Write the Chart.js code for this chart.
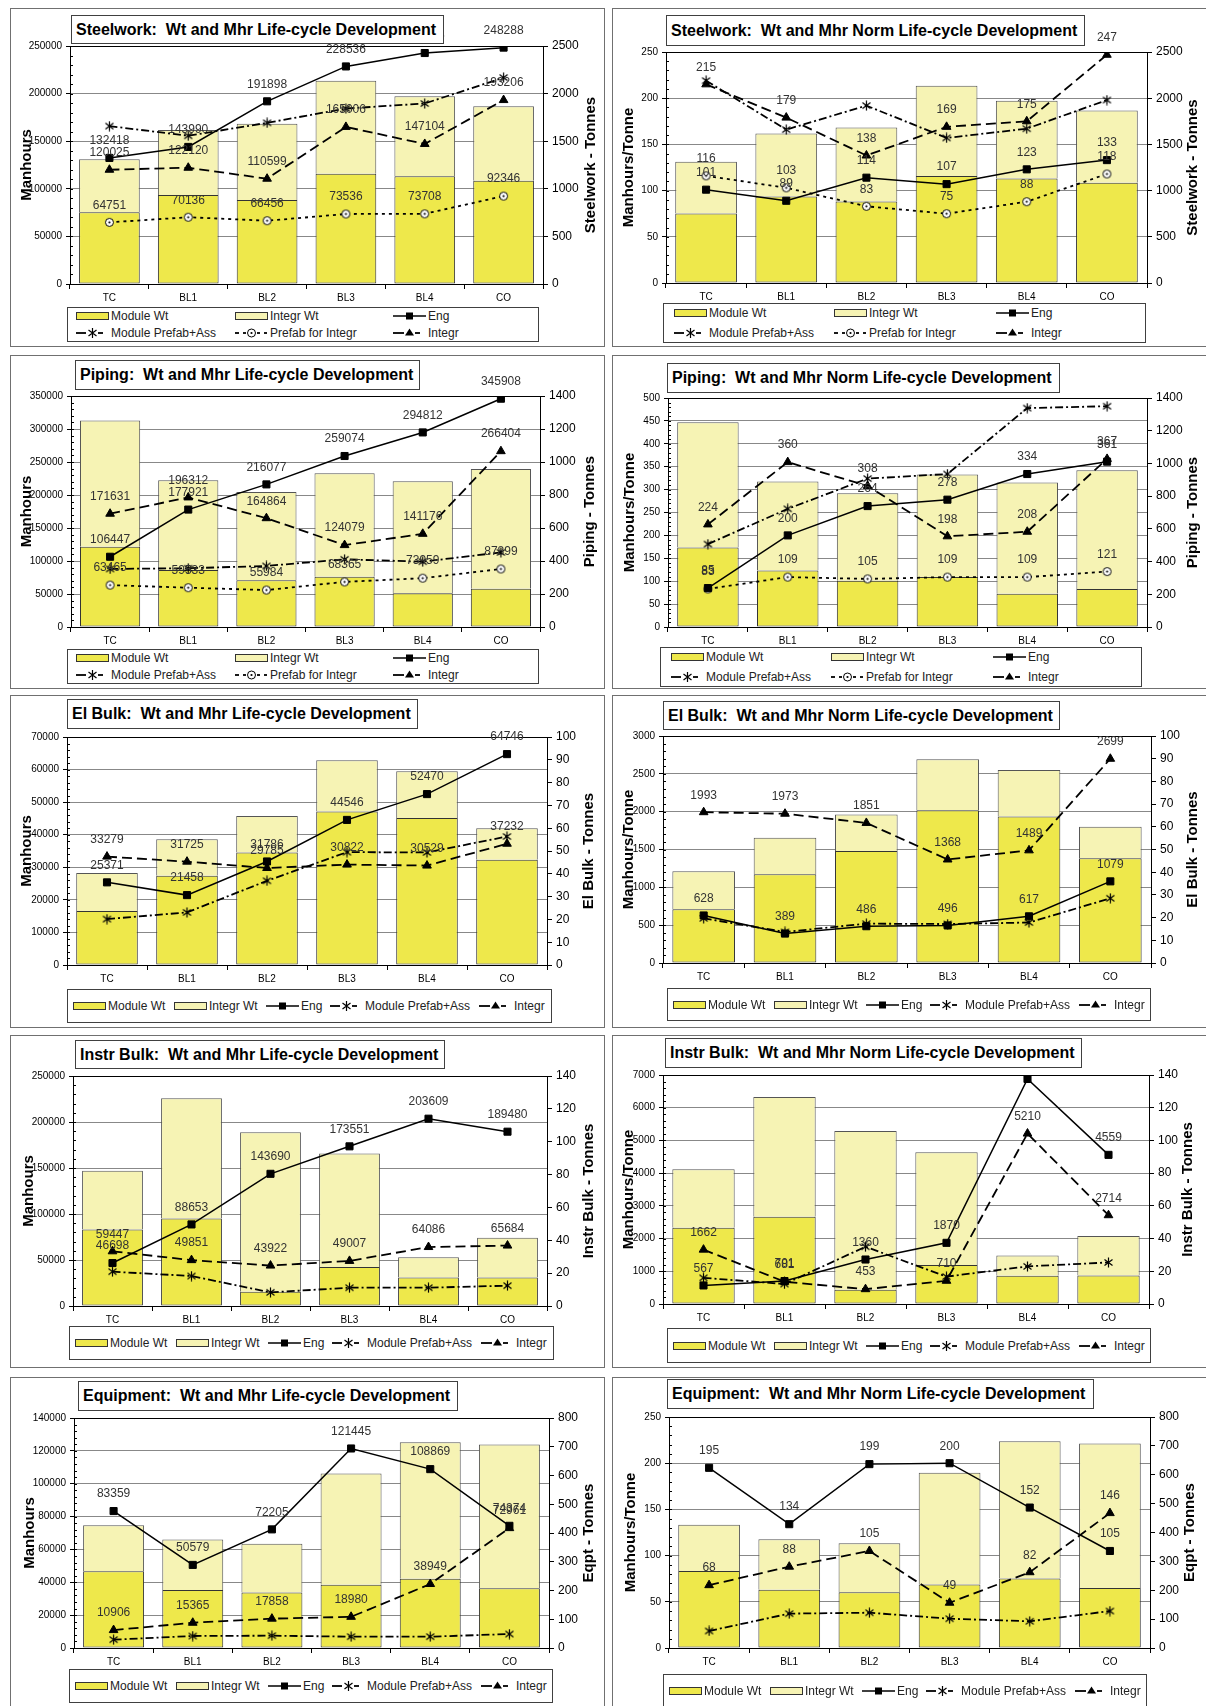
<!DOCTYPE html>
<html><head><meta charset="utf-8">
<script src="https://cdn.jsdelivr.net/npm/chart.js@4.4.1/dist/chart.umd.min.js"></script>
<style>
html,body{margin:0;padding:0;background:#fff;}
body{width:1206px;height:1706px;position:relative;overflow:hidden;font-family:"Liberation Sans",Arial,sans-serif;}
canvas{position:absolute;}
.pbox{position:absolute;border:1px solid #707070;box-sizing:border-box;}
.tbox{position:absolute;border:1px solid #404040;background:#fff;box-sizing:border-box;font-weight:bold;font-size:16px;white-space:pre;padding-left:4px;display:flex;align-items:center;color:#000;z-index:5;}
.lbox{position:absolute;border:1px solid #404040;background:#fff;box-sizing:border-box;z-index:5;}
.li{position:absolute;display:flex;align-items:center;font-size:12px;color:#222;white-space:nowrap;height:14px;}
.li svg{margin-right:2px;}
</style>
</head><body>
<script>
// ---------------- DATA ----------------
const categories = ['TC','BL1','BL2','BL3','BL4','CO'];

// Steelwork
const steelModuleWt = [753, 936, 882, 1158, 1132, 1085];
const steelIntegrWt = [558, 682, 801, 976, 841, 782];
const steelEng = [132418, 143990, 191898, 228536, 242625, 248288];
const steelModPrefab = [165850, 155700, 169300, 184300, 189600, 216800];
const steelPrefabInt = [64751, 70136, 66456, 73536, 73708, 92346];
const steelIntegr = [120025, 122120, 110599, 165006, 147104, 193206];
const steelEngN = [101, 89, 114, 107, 123, 133];
const steelModPrefabN = [219, 166, 192, 157, 167, 198];
const steelPrefabIntN = [116, 103, 83, 75, 88, 118];
const steelIntegrN = [215, 179, 138, 169, 175, 247];

// Piping
const pipeModuleWt = [486, 345, 283, 305, 204, 232];
const pipeIntegrWt = [766, 545, 535, 627, 679, 726];
const pipeEng = [106447, 177921, 216077, 259074, 294812, 345908];
const pipeModPrefab = [88000, 89000, 92500, 102500, 99000, 113000];
const pipePrefabInt = [63465, 59533, 55984, 68365, 73959, 87899];
const pipeIntegr = [171631, 196312, 164864, 124079, 141176, 266404];
const pipeEngN = [85, 200, 264, 278, 334, 361];
const pipeModPrefabN = [181, 258, 324, 334, 478, 482];
const pipePrefabIntN = [83, 109, 105, 109, 109, 121];
const pipeIntegrN = [224, 360, 308, 198, 208, 367];

// El Bulk
const elModuleWt = [23.7, 39.1, 49.3, 67.3, 64.5, 46.2];
const elIntegrWt = [16.7, 16.1, 16.1, 22.5, 20.5, 13.8];
const elEng = [25371, 21458, 31786, 44546, 52470, 64746];
const elModPrefab = [14100, 16150, 25850, 34650, 34550, 39450];
const elIntegr = [33279, 31725, 29785, 30822, 30529, 37232];
const elEngN = [628, 389, 486, 496, 617, 1079];
const elModPrefabN = [590, 410, 520, 515, 535, 855];
const elIntegrN = [1993, 1973, 1851, 1368, 1489, 2699];

// Instr Bulk
const insModuleWt = [46.6, 53.3, 8.7, 23.8, 17.3, 17.4];
const insIntegrWt = [35.8, 73.2, 97.0, 69.0, 12.3, 24.2];
const insEng = [46698, 88653, 143690, 173551, 203609, 189480];
const insModPrefab = [37300, 32600, 14850, 19900, 19900, 22100];
const insIntegr = [59447, 49851, 43922, 49007, 64086, 65684];
const insEngN = [567, 701, 1360, 1870, 6879, 4559];
const insModPrefabN = [800, 612, 1750, 836, 1150, 1270];
const insIntegrN = [1662, 681, 453, 710, 5210, 2714];

// Equipment
const eqModuleWt = [267, 202, 193, 220, 241, 208];
const eqIntegrWt = [160, 175, 170, 387, 475, 500];
const eqEng = [83359, 50579, 72205, 121445, 108869, 74374];
const eqModPrefab = [5070, 7300, 7500, 6900, 6900, 8500];
const eqIntegr = [10906, 15365, 17858, 18980, 38949, 72961];
const eqEngN = [195, 134, 199, 200, 152, 105];
const eqModPrefabN = [18.4, 37.2, 38.2, 31.7, 28.9, 40.0];
const eqIntegrN = [68, 88, 105, 49, 82, 146];

// ---------------- STYLE ----------------
const MODC = '#EEE84B', INTC = '#F6F3B4';
Chart.defaults.font.family = '"Liberation Sans", Arial, sans-serif';

function mk(w,h,fn){const c=document.createElement('canvas');c.width=w;c.height=h;fn(c.getContext('2d'));return c;}
const AST = mk(11,11,g=>{g.strokeStyle='#000';g.lineWidth=1.2;g.beginPath();g.moveTo(5.5,0.5);g.lineTo(5.5,10.5);g.moveTo(1.5,2.5);g.lineTo(9.5,8.5);g.moveTo(9.5,2.5);g.lineTo(1.5,8.5);g.stroke();});
const CIRC = mk(11,11,g=>{g.fillStyle='#fff';g.strokeStyle='#000';g.lineWidth=1;g.beginPath();g.arc(5.5,5.5,4,0,Math.PI*2);g.fill();g.stroke();g.fillStyle='#000';g.beginPath();g.arc(5.5,5.5,1.1,0,Math.PI*2);g.fill();});

const STY = {
  eng:   {label:'Eng', dash:[], width:1.5, ps:'rect', r:5},
  mp:    {label:'Module Prefab+Ass', dash:[8,3,2,3], width:1.8, ps:AST, r:5},
  pi:    {label:'Prefab for Integr', dash:[3,4], width:1.8, ps:CIRC, r:5},
  integr:{label:'Integr', dash:[10,5], width:1.8, ps:'triangle', r:5}
};

// ---------------- PANELS (layout) ----------------
const L2 = [8,167,325], R2 = [10,170,332], C1 = [5,106,198,262,411];
const panels = [
 {title:'Steelwork:  Wt and Mhr Life-cycle Development', box:[10,8,605,347], plot:[70,46,543,284], tbox:[71,15,444,44], lbox:[67,307,539,342], lcols:L2,
  lt:[27,'Manhours'], rt:[591,'Steelwork - Tonnes'], yl:[250000,50000], yr:[2500,500], bars:[steelModuleWt,steelIntegrWt],
  lines:[['eng',steelEng,1],['mp',steelModPrefab,0],['pi',steelPrefabInt,1],['integr',steelIntegr,1]]},
 {title:'Steelwork:  Wt and Mhr Norm Life-cycle Development', box:[612,8,1207,347], plot:[666,52,1147,283], tbox:[666,15,1085,46], lbox:[663,303,1146,343], lcols:R2,
  lt:[629,'Manhours/Tonne'], rt:[1193,'Steelwork - Tonnes'], yl:[250,50], yr:[2500,500], bars:[steelModuleWt,steelIntegrWt],
  lines:[['eng',steelEngN,1],['mp',steelModPrefabN,0],['pi',steelPrefabIntN,1],['integr',steelIntegrN,1]]},
 {title:'Piping:  Wt and Mhr Life-cycle Development', box:[10,355,605,689], plot:[71,396,540,627], tbox:[75,360,420,390], lbox:[67,649,539,684], lcols:L2,
  lt:[27,'Manhours'], rt:[590,'Piping - Tonnes'], yl:[350000,50000], yr:[1400,200], bars:[pipeModuleWt,pipeIntegrWt],
  lines:[['eng',pipeEng,1],['mp',pipeModPrefab,0],['pi',pipePrefabInt,1],['integr',pipeIntegr,1]]},
 {title:'Piping:  Wt and Mhr Norm Life-cycle Development', box:[612,355,1207,689], plot:[668,398,1147,627], tbox:[667,363,1060,393], lbox:[660,647,1142,687], lcols:R2,
  lt:[630,'Manhours/Tonne'], rt:[1193,'Piping - Tonnes'], yl:[500,50], yr:[1400,200], bars:[pipeModuleWt,pipeIntegrWt],
  lines:[['eng',pipeEngN,1],['mp',pipeModPrefabN,0],['pi',pipePrefabIntN,1],['integr',pipeIntegrN,1]]},
 {title:'El Bulk:  Wt and Mhr Life-cycle Development', box:[10,695,605,1028], plot:[67,737,547,965], tbox:[67,699,418,729], lbox:[67,989,552,1023], lcols:C1,
  lt:[27,'Manhours'], rt:[589,'El Bulk - Tonnes'], yl:[70000,10000], yr:[100,10], bars:[elModuleWt,elIntegrWt],
  lines:[['eng',elEng,1],['mp',elModPrefab,0],['integr',elIntegr,1]]},
 {title:'El Bulk:  Wt and Mhr Norm Life-cycle Development', box:[612,695,1207,1028], plot:[663,736,1151,963], tbox:[663,701,1060,730], lbox:[667,988,1151,1021], lcols:C1,
  lt:[629,'Manhours/Tonne'], rt:[1193,'El Bulk - Tonnes'], yl:[3000,500], yr:[100,10], bars:[elModuleWt,elIntegrWt],
  lines:[['eng',elEngN,1],['mp',elModPrefabN,0],['integr',elIntegrN,1]]},
 {title:'Instr Bulk:  Wt and Mhr Life-cycle Development', box:[10,1035,605,1368], plot:[73,1076,547,1306], tbox:[75,1040,445,1069], lbox:[69,1326,554,1360], lcols:C1,
  lt:[29,'Manhours'], rt:[589,'Instr Bulk - Tonnes'], yl:[250000,50000], yr:[140,20], bars:[insModuleWt,insIntegrWt],
  lines:[['eng',insEng,1],['mp',insModPrefab,0],['integr',insIntegr,1]]},
 {title:'Instr Bulk:  Wt and Mhr Norm Life-cycle Development', box:[612,1035,1207,1368], plot:[663,1075,1149,1304], tbox:[665,1038,1082,1068], lbox:[667,1328,1151,1363], lcols:C1,
  lt:[629,'Manhours/Tonne'], rt:[1188,'Instr Bulk - Tonnes'], yl:[7000,1000], yr:[140,20], bars:[insModuleWt,insIntegrWt],
  lines:[['eng',insEngN,1],['mp',insModPrefabN,0],['integr',insIntegrN,1]]},
 {title:'Equipment:  Wt and Mhr Life-cycle Development', box:[10,1377,605,1707], plot:[74,1418,549,1648], tbox:[78,1381,458,1411], lbox:[69,1669,553,1703], lcols:C1,
  lt:[30,'Manhours'], rt:[589,'Eqpt - Tonnes'], yl:[140000,20000], yr:[800,100], bars:[eqModuleWt,eqIntegrWt],
  lines:[['eng',eqEng,1],['mp',eqModPrefab,0],['integr',eqIntegr,1]]},
 {title:'Equipment:  Wt and Mhr Norm Life-cycle Development', box:[612,1377,1207,1707], plot:[669,1417,1150,1648], tbox:[667,1379,1094,1409], lbox:[663,1674,1147,1707], lcols:C1,
  lt:[631,'Manhours/Tonne'], rt:[1190,'Eqpt - Tonnes'], yl:[250,50], yr:[800,100], bars:[eqModuleWt,eqIntegrWt],
  lines:[['eng',eqEngN,1],['mp',eqModPrefabN,0],['integr',eqIntegrN,1]]}
];

// ---------------- PLUGIN ----------------
const deco = {
  id:'deco',
  beforeDatasetsDraw(chart, args, o){
    const {ctx, chartArea:a} = chart; const y = chart.scales.y;
    ctx.save(); ctx.strokeStyle='#000'; ctx.lineWidth=1;
    const st = o.step/5;
    for(let k=0;k*st<=o.max+1e-9;k++){ const py=Math.round(y.getPixelForValue(k*st))+0.5; ctx.beginPath(); ctx.moveTo(a.left,py); ctx.lineTo(a.left+3,py); ctx.stroke(); }
    ctx.beginPath(); ctx.moveTo(a.left, Math.round(a.top)+0.5); ctx.lineTo(a.right, Math.round(a.top)+0.5); ctx.stroke();
    ctx.restore();
  },
  afterDatasetsDraw(chart, args, o){
    const ctx = chart.ctx; ctx.save();
    ctx.font = '12px "Liberation Sans", Arial'; ctx.fillStyle='#333'; ctx.textAlign='center'; ctx.textBaseline='middle';
    chart.data.datasets.forEach((ds,i)=>{ if(!ds.showLabels) return; const meta=chart.getDatasetMeta(i);
      meta.data.forEach((pt,j)=>{ ctx.fillText(String(ds.data[j]), pt.x, pt.y-17); }); });
    ctx.restore();
  },
  afterDraw(chart, args, o){
    const {ctx, chartArea:a} = chart; const cy=(a.top+a.bottom)/2;
    ctx.save(); ctx.font='bold 15px "Liberation Sans", Arial'; ctx.fillStyle='#000'; ctx.textAlign='center'; ctx.textBaseline='middle';
    [[o.lx,o.ltxt],[o.rx,o.rtxt]].forEach(([x,t])=>{ ctx.save(); ctx.translate(x,cy); ctx.rotate(-Math.PI/2); ctx.fillText(t,0,0); ctx.restore(); });
    ctx.restore();
  }
};
Chart.register(deco);

// ---------------- LEGEND SYMBOLS ----------------
function sym(kind){
  const s = (inner)=>`<svg width="33" height="12" viewBox="0 0 33 12">${inner}</svg>`;
  const ln = (x1,x2,w)=>`<line x1="${x1}" y1="6" x2="${x2}" y2="6" stroke="#000" stroke-width="${w||1.8}"/>`;
  if(kind==='mod') return s(`<rect x="0.5" y="2.5" width="32" height="7" fill="${MODC}" stroke="#333"/>`);
  if(kind==='int') return s(`<rect x="0.5" y="2.5" width="32" height="7" fill="${INTC}" stroke="#333"/>`);
  if(kind==='eng') return s(ln(0,33,1.5)+`<rect x="13" y="2.5" width="7" height="7" fill="#000"/>`);
  if(kind==='mp') return s(ln(0,10)+ln(22,27)+`<path d="M16.5 1V11M12.5 3L20.5 9M20.5 3L12.5 9" stroke="#000" stroke-width="1.2"/>`);
  if(kind==='pi') return s(ln(0,4)+ln(8,11)+ln(22,25)+ln(29,32)+`<circle cx="16.5" cy="6" r="4" fill="#fff" stroke="#000"/><circle cx="16.5" cy="6" r="1.1" fill="#000"/>`);
  if(kind==='integr') return s(ln(0,11)+ln(22,27)+`<path d="M16.5 1.5L21 8.5H12Z" fill="#000"/>`);
}
function div(cls, x, y, w, h){ const d=document.createElement('div'); d.className=cls; d.style.left=x+'px'; d.style.top=y+'px'; if(w!=null){d.style.width=w+'px'; d.style.height=h+'px';} return d; }

// ---------------- BUILD ----------------
panels.forEach(p=>{
  const [bx0,by0,bx1,by1] = p.box; const cw=bx1-bx0, ch=by1-by0;
  const [L,T,R,B] = p.plot; const XH = 20;
  document.body.appendChild(div('pbox', bx0, by0, cw, ch));
  const cv = document.createElement('canvas'); cv.width=cw; cv.height=ch; cv.style.left=bx0+'px'; cv.style.top=by0+'px';
  document.body.appendChild(cv);

  const datasets = [
    {type:'bar', label:'Module Wt', data:p.bars[0], yAxisID:'y2', stack:'w', backgroundColor:MODC, borderColor:'#333', borderWidth:1, borderSkipped:false, order:5, barPercentage:0.77, categoryPercentage:1},
    {type:'bar', label:'Integr Wt', data:p.bars[1], yAxisID:'y2', stack:'w', backgroundColor:INTC, borderColor:'#555', borderWidth:1, borderSkipped:'start', order:5, barPercentage:0.77, categoryPercentage:1}
  ];
  p.lines.forEach(([k,data,lab])=>{ const s=STY[k];
    datasets.push({type:'line', label:s.label, data, yAxisID:'y', borderColor:'#000', borderWidth:s.width, borderDash:s.dash,
      pointStyle:s.ps, pointRadius:s.r, pointBackgroundColor:'#000', pointBorderColor:'#000', pointBorderWidth:1,
      fill:false, tension:0, order:1, showLabels:!!lab});
  });

  new Chart(cv, {type:'bar', data:{labels:categories, datasets},
    options:{responsive:false, animation:false, events:[],
      layout:{autoPadding:false, padding:{left:0,right:0,top:T-by0,bottom:(by1-B)-XH}},
      plugins:{legend:{display:false}, tooltip:{enabled:false},
        deco:{max:p.yl[0], step:p.yl[1], lx:p.lt[0]-bx0, ltxt:p.lt[1], rx:p.rt[0]-bx0, rtxt:p.rt[1]}},
      scales:{
        x:{stacked:true, offset:true, grid:{offset:true, drawOnChartArea:false, drawTicks:true, tickLength:5, tickColor:'#000'},
           border:{color:'#000'}, ticks:{font:{size:10}, color:'#000', padding:3, maxRotation:0, autoSkip:false}, afterFit:s=>{s.height=XH;}},
        y:{position:'left', min:0, max:p.yl[0], ticks:{stepSize:p.yl[1], font:{size:10}, color:'#000', padding:4, autoSkip:false, callback:v=>String(v)},
           grid:{color:'#888', tickColor:'#000', tickLength:4}, border:{color:'#000'}, afterFit:s=>{s.width=L-bx0;}},
        y2:{position:'right', stacked:true, min:0, max:p.yr[0], ticks:{stepSize:p.yr[1], font:{size:12}, color:'#000', padding:4, autoSkip:false, callback:v=>String(v)},
           grid:{drawOnChartArea:false, tickColor:'#000', tickLength:5}, border:{color:'#000'}, afterFit:s=>{s.width=bx1-R;}}
      }
    }
  });

  // title box
  const [tx0,ty0,tx1,ty1] = p.tbox;
  const t = div('tbox', tx0, ty0, tx1-tx0, ty1-ty0); t.textContent = p.title; document.body.appendChild(t);

  // legend box
  const [lx0,ly0,lx1,ly1] = p.lbox; const lw=lx1-lx0, lh=ly1-ly0;
  const lg = div('lbox', lx0, ly0, lw, lh); document.body.appendChild(lg);
  const keys = p.lines.map(l=>l[0]);
  let items;
  if(keys.includes('pi')){
    items = [['mod','Module Wt',0,0],['int','Integr Wt',1,0],['eng','Eng',2,0],['mp','Module Prefab+Ass',0,1],['pi','Prefab for Integr',1,1],['integr','Integr',2,1]]
      .map(([k,txt,c,r])=>[k,txt,p.lcols[c], r===0 ? lh*0.26 : lh*0.74]);
  } else {
    items = [['mod','Module Wt'],['int','Integr Wt'],['eng','Eng'],['mp','Module Prefab+Ass'],['integr','Integr']]
      .map(([k,txt],i)=>[k,txt,p.lcols[i], lh/2]);
  }
  items.forEach(([k,txt,x,yc])=>{ const it=div('li', x, Math.round(yc-8)); it.innerHTML = sym(k)+'<span>'+txt+'</span>'; lg.appendChild(it); });
});
</script>
</body></html>
